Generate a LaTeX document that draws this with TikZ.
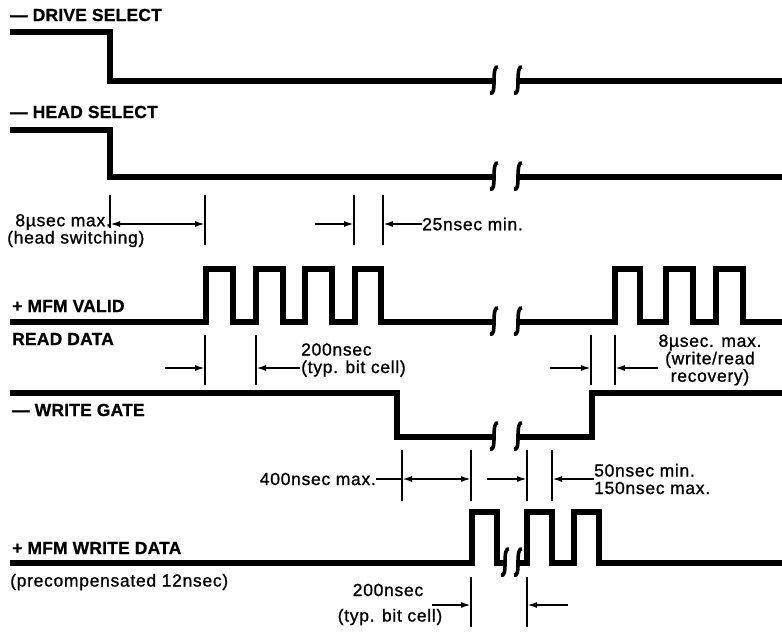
\documentclass[tikz,border=0pt]{standalone}
\usepackage{fontspec}
\setmainfont{Liberation Sans}
\newfontfamily\namefont[LetterSpace=1,FakeBold=0.8]{Liberation Sans}
\newfontfamily\notefont[LetterSpace=4,FakeBold=1]{Liberation Sans}
\usetikzlibrary{arrows.meta}
\definecolor{ink}{HTML}{000000}
\tikzset{
  sig/.style={draw=ink, line width=5.5pt, line join=miter},
  brk/.style={draw=ink, line width=3.6pt},
  tickline/.style={draw=ink, line width=2pt},
  dim/.style={draw=ink, line width=1.8pt, -{Latex[length=10pt,width=6pt]}},
  ddim/.style={dim, {Latex[length=10pt,width=6pt]}-{Latex[length=10pt,width=6pt]}},
  lead/.style={draw=ink, line width=1.8pt},
  signame/.style={text=ink, font=\namefont\bfseries\fontsize{17.5}{19}\selectfont, inner sep=0pt, anchor=west},
  note/.style={text=ink, font=\notefont\fontsize{17.5}{17.5}\selectfont, inner sep=0pt},
  squig/.pic={\draw[brk] (4,-14) .. controls (1,-15) and (0,-10) .. (0,0) .. controls (0,10) and (-1,13) .. (-4,12);}
}

\begin{document}
\begin{tikzpicture}[x=1pt,y=-1pt]
  \useasboundingbox (0,0) rectangle (782,634);

  % signal traces
  \draw[sig] (10,32) -- (110,32) -- (110,81) -- (494,81);
  \draw[sig] (518,81) -- (782,81);
  \draw[sig] (10,130) -- (110,130) -- (110,177) -- (494,177);
  \draw[sig] (518,177) -- (782,177);
  \draw[sig] (10,322) -- (206,322) |- (233,269) |- (256,322) |- (283,269) |- (305,322)
    |- (332,269) |- (355,322) |- (381,269) |- (494,322);
  \draw[sig] (518,322) -- (615,322) |- (640,269) |- (666,322) |- (693,269) |- (716,322)
    |- (743,269) |- (782,322);
  \draw[sig] (10,393) -- (397,393) -- (397,437) -- (494,437);
  \draw[sig] (518,437) -- (592,437) -- (592,393) -- (782,393);
  \draw[sig] (10,563) -- (472,563) |- (497,512) |- (505,563);
  \draw[sig] (518,563) -- (527,563) |- (552,512) |- (574,563) |- (599,512) |- (782,563);

  % breaks
  \foreach \yy in {81,177,322,437} {
    \pic at (494,\yy) {squig};
    \pic at (518,\yy) {squig};
  }
  \pic at (505,563) {squig};
  \pic at (518,563) {squig};

  % ticks
  \foreach \xx/\ya/\yb in {110/195/228, 205/195/245, 354/195/245, 383/195/245,
      205/335/385, 256/335/385, 591/335/385, 615/335/385,
      402/450/501, 471/450/501, 527/450/501, 552/450/501,
      471/577/627, 527/577/627}
    \draw[tickline] (\xx,\ya) -- (\xx,\yb);

  \coordinate (hsL) at (110,224);
  \coordinate (hsR) at (205,224);
  \coordinate (hgA) at (315,224);
  \coordinate (hgL) at (354,224);
  \coordinate (hgR) at (383,224);
  \coordinate (rdA) at (165,368);
  \coordinate (rdL) at (205,368);
  \coordinate (rdR) at (256,368);
  \coordinate (rdB) at (300,368);
  \coordinate (wrA) at (550,368);
  \coordinate (wrL) at (591,368);
  \coordinate (wrR) at (615,368);
  \coordinate (wrB) at (658,368);
  \coordinate (wgL) at (402,479);
  \coordinate (wgR) at (471,479);
  \coordinate (wgA) at (487,479);
  \coordinate (wdL) at (527,479);
  \coordinate (wdR) at (552,479);
  \coordinate (bcA) at (432,605);
  \coordinate (bcL) at (471,605);
  \coordinate (bcR) at (527,605);
  \coordinate (bcB) at (568,605);

  % signal names
  \node[signame] (drv) at (10,15) {— DRIVE SELECT};
  \node[signame] (hds) at (10,112) {— HEAD SELECT};
  \node[signame] (mfv) at (12,306) {+ MFM VALID};
  \node[signame] (rdd) at (12,339) {READ DATA};
  \node[signame] (wgt) at (12,410) {— WRITE GATE};
  \node[signame] (mwd) at (12,548) {+ MFM WRITE DATA};
  \node[note, anchor=west] (pre) at (10,582) {(precompensated 12nsec)};

  % timing notes
  \node[note, anchor=east] (hsw) at (111,222) {8µsec max.};
  \node[note, anchor=west] (hsx) at (7,239) {(head switching)};
  \node[note, anchor=west] (hgm) at (422,224) {25nsec min.};
  \node[note, anchor=west, align=left] (bit1) at (301,360) {200nsec\\(typ. bit cell)};
  \node[note, align=center] (rcv) at (710,360) {8µsec. max.\\(write/read\\recovery)};
  \node[note, anchor=east] (wgm) at (376,479) {400nsec max.};
  \node[note, anchor=west, align=left] (pwm) at (594,479) {50nsec min.\\150nsec max.};
  \node[note] (bit2) at (388,590) {200nsec};
  \node[note] (bit2b) at (390,617) {(typ. bit cell)};

  \draw[ddim] (hsL) -- (hsR);
  \draw[dim] (hgA) -- (hgL);
  \draw[dim] (hgm.west) -- (hgR);
  \draw[dim] (rdA) -- (rdL);
  \draw[dim] (rdB) -- (rdR);
  \draw[dim] (wrA) -- (wrL);
  \draw[dim] (wrB) -- (wrR);
  \draw[lead] (wgm.east) -- (wgL);
  \draw[ddim] (wgL) -- (wgR);
  \draw[dim] (wgA) -- (wdL);
  \draw[dim] (pwm.west) -- (wdR);
  \draw[dim] (bcA) -- (bcL);
  \draw[dim] (bcB) -- (bcR);
\end{tikzpicture}
\end{document}
